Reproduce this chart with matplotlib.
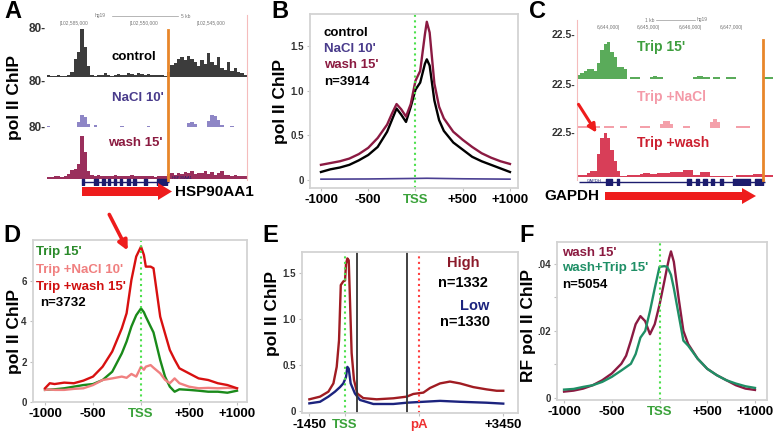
import numpy as np
import matplotlib
matplotlib.use('Agg')
import matplotlib.pyplot as plt
from matplotlib.patches import FancyArrow

plt.rcParams['font.family'] = ['Liberation Sans', 'DejaVu Sans']
plt.rcParams['font.weight'] = 'bold'

W, H = 780, 432

# ---------------- data ----------------
# A: browser tracks around HSP90AA1, 60 equal bins, track scale 0-80
a_control = [3, 2, 2, 3, 2, 2, 3, 8, 30, 42, 80, 50, 18, 3, 2, 3, 4, 6, 3, 2,
             4, 5, 4, 3, 6, 5, 4, 6, 5, 4, 5, 4, 3, 4, 3, 2, 8, 20, 24, 30,
             33, 28, 35, 30, 25, 18, 28, 22, 40, 25, 20, 33, 15, 12, 25, 10, 15, 8, 6, 4]
a_nacl = [1, 0, 0, 0, 0, 0, 0, 0, 0, 8, 22, 18, 6, 0, 4, 0, 0, 0, 0, 0,
          0, 0, 2, 0, 0, 0, 0, 0, 0, 0, 2, 0, 0, 0, 0, 0, 0, 0, 0, 0,
          0, 0, 7, 8, 6, 0, 0, 0, 10, 22, 20, 12, 3, 0, 0, 2, 0, 0, 0, 0]
a_wash = [3, 3, 4, 4, 3, 5, 8, 14, 16, 24, 68, 42, 12, 6, 5, 6, 5, 4, 5, 4,
          6, 5, 4, 5, 4, 6, 5, 4, 5, 4, 5, 4, 3, 4, 5, 4, 8, 9, 7, 10,
          8, 11, 9, 12, 8, 10, 9, 13, 8, 11, 7, 9, 12, 6, 7, 5, 6, 4, 5, 4]
a_exons = [(10.5, 11.2), (14, 15.2), (16.5, 17.3), (18.2, 19), (20, 20.7), (21.8, 22.6),
           (24, 24.8), (25.8, 26.6), (29.2, 30), (33, 36)]
a_gene_span = (10.5, 36.5)

# C: browser tracks around GAPDH, 59 bins, track scale 0-22.5
c_trip = [2, 3, 4, 5, 5, 4, 8, 15, 18, 19, 14, 11, 6, 6, 5, 0, 1, 1, 1, 0,
          0, 0, 1, 1.5, 1, 1, 0, 0, 0, 0, 0, 0, 0, 0, 0, 1, 1.5, 1.5, 1, 1,
          0, 1, 1, 0, 0, 1, 1, 1, 0, 0, 0, 0, 0, 0, 0, 0, 1, 1, 1]
c_nacl = [1, 1, 1, 1, 1, 1, 1, 0, 1.2, 1.2, 1, 0, 0, 1, 1, 0, 0, 0, 0, 1,
          1, 1, 0, 0, 0, 2, 3.5, 3.5, 2, 0, 0, 0, 1, 1, 0, 0, 0, 0, 0, 0,
          3, 4.5, 3, 0, 0, 0, 0, 0, 1, 1, 1.3, 1.3, 0, 0, 0, 0, 0, 0, 0]
c_wash = [1, 1, 1, 2, 3, 3, 12, 20, 23, 20, 14, 8, 3, 0.6, 0.6, 1, 1, 1, 1, 1.5,
          2, 2, 1.5, 1.5, 2, 2, 2, 2, 2.5, 2.5, 2.5, 2.5, 3.5, 3.5, 3.5, 1, 1, 2.5, 2.5, 2.5,
          0.6, 0.6, 0.6, 0.6, 0.6, 0.6, 0.6, 0, 1, 1, 1, 1, 1, 1.5, 1.5, 1.5, 1, 1, 1]
c_exons = [(8.8, 10.5), (12, 12.7), (33, 34.3), (35.7, 36.7), (38, 39), (40.3, 41.3),
           (43, 44), (47, 52), (53.5, 56)]
c_gene_span = (0.5, 56.5)

# B: metagene, -1000..+1000 around TSS
b_pos = [-1000, -900, -800, -700, -600, -500, -400, -300, -250, -200, -150, -100, -50, 0,
         50, 100, 120, 150, 200, 250, 300, 400, 500, 600, 700, 800, 900, 1000]
b_control = [0.09, 0.12, 0.14, 0.17, 0.22, 0.28, 0.37, 0.54, 0.67, 0.80, 0.73, 0.65, 0.82, 1.01,
             1.09, 1.30, 1.35, 1.28, 0.89, 0.67, 0.55, 0.42, 0.34, 0.26, 0.21, 0.17, 0.13, 0.09]
b_wash = [0.17, 0.19, 0.21, 0.24, 0.29, 0.36, 0.47, 0.62, 0.74, 0.85, 0.79, 0.71, 0.85, 1.11,
          1.22, 1.63, 1.77, 1.65, 1.08, 0.82, 0.69, 0.54, 0.45, 0.37, 0.30, 0.25, 0.21, 0.18]
b_nacl_pos = [-1000, -500, 0, 120, 500, 1000]
b_nacl = [0.01, 0.012, 0.018, 0.02, 0.014, 0.01]

# D
d_pos = [-1000, -950, -900, -800, -700, -600, -500, -400, -300, -200, -150, -100, -50, 0, 30,
         50, 100, 130, 200, 250, 300, 350, 400, 500, 600, 700, 800, 900, 1000]
d_wash = [0.68, 0.93, 0.89, 0.96, 0.93, 1.06, 1.26, 1.75, 2.50, 3.65, 4.40, 6.05, 7.21, 7.70, 7.29,
          6.71, 6.71, 6.63, 4.23, 3.40, 2.58, 2.10, 1.67, 1.42, 1.17, 1.09, 0.93, 0.84, 0.68]
d_trip = [0.60, 0.62, 0.63, 0.68, 0.76, 0.84, 0.89, 1.09, 1.50, 2.41, 3.00, 3.74, 4.30, 4.64, 4.45,
          4.23, 3.74, 3.45, 2.08, 1.26, 0.76, 0.51, 0.63, 0.60, 0.56, 0.51, 0.51, 0.46, 0.56]
d_nacl = [0.60, 0.62, 0.60, 0.60, 0.65, 0.68, 0.84, 1.09, 1.17, 1.26, 1.20, 1.39, 1.26, 1.75, 1.60,
          1.75, 1.83, 1.70, 1.42, 1.10, 0.93, 1.17, 0.93, 0.76, 0.68, 0.70, 0.68, 0.70, 0.68]

# E: scaled metagene, x in percent of the plotted window
e_ticks = [0, 18.4, 56.4, 100]
e_ticklabels = ['-1450', 'TSS', 'pA', '+3450']
e_bounds = [24.7, 50.2]
e_high_pos = [0, 5.5, 9.8, 12.4, 14.1, 15.3, 16.2, 17.5, 18.4, 18.9, 19.6, 20.3, 21.0, 21.8, 23.0,
              24.7, 27.8, 34.7, 43.3, 50.2, 53.6, 58.8, 62.2, 67.4, 72.5, 77.7, 84.5, 91.4, 96.6, 100]
e_high = [0.127, 0.156, 0.21, 0.30, 0.48, 0.77, 1.37, 1.41, 1.42, 1.60, 1.66, 1.64, 1.17, 0.63, 0.34,
          0.19, 0.14, 0.127, 0.138, 0.156, 0.185, 0.20, 0.25, 0.30, 0.32, 0.30, 0.26, 0.235, 0.22, 0.22]
e_low_pos = [0, 5.5, 9.8, 13.2, 15.8, 17.5, 18.9, 19.6, 20.3, 21.3, 23.5, 26.1, 33.0, 43.3, 50.2,
             57.0, 67.4, 77.7, 91.4, 100]
e_low = [0.083, 0.10, 0.156, 0.21, 0.26, 0.30, 0.37, 0.48, 0.46, 0.30, 0.19, 0.12, 0.076, 0.076, 0.09,
         0.098, 0.11, 0.10, 0.09, 0.08]

# F
f_pos = [-1000, -900, -800, -700, -600, -500, -400, -350, -300, -250, -200, -150, -100, -50, 0,
         50, 80, 100, 120, 150, 200, 250, 300, 400, 500, 600, 700, 800, 900, 1000]
f_wash = [.0019, .0022, .0028, .0038, .0053, .0073, .0102, .0126, .0171, .0220, .0244, .0229, .0190, .0220, .0278,
          .0347, .0390, .0416, .0437, .0406, .0298, .0200, .0161, .0117, .0087, .0068, .0053, .0038, .0028, .0024]
f_trip = [.0025, .0027, .0033, .0038, .0048, .0063, .0082, .0092, .0102, .0131, .0180, .0200, .0259, .0327, .0391,
          .0393, .0391, .0380, .0367, .0327, .0249, .0171, .0156, .0117, .0087, .0068, .0053, .0043, .0035, .0030]

# ---------------- figure ----------------
fig = plt.figure(figsize=(W / 100, H / 100), dpi=100)

GREEN_TSS = '#4de04d'
TSS_TXT = '#3aa23a'
MAROON = '#8b1a42'


def px_axes(x0, y0, x1, y1):
    return fig.add_axes([x0 / W, 1 - y1 / H, (x1 - x0) / W, (y1 - y0) / H])


def track(box, heights, top, color):
    ax = px_axes(*box)
    x = np.arange(len(heights))
    ax.bar(x, heights, width=1, align='edge', color=color, linewidth=0)
    ax.set_xlim(0, len(heights))
    ax.set_ylim(0, top)
    ax.axis('off')
    return ax


def gene(box, nbins, span, exons, color='#1c1c6e'):
    ax = px_axes(*box)
    ax.hlines(0, span[0], span[1], color=color, lw=1)
    ax.broken_barh([(s, e - s) for s, e in exons], (-1, 2), color=color)
    ax.set_xlim(0, nbins)
    ax.set_ylim(-1.5, 1.5)
    ax.axis('off')
    return ax


def profile_style(ax, xticks, xlabels, yticks, ylabels):
    for s in ax.spines.values():
        s.set_color('#d3d3d3')
        s.set_linewidth(1.3)
    ax.set_xticks(xticks)
    ax.set_xticklabels(xlabels, fontsize=9.5)
    ax.set_yticks(yticks)
    ax.set_yticklabels(ylabels, fontsize=7, color='#333333')
    ax.tick_params(axis='both', color='#c0c0c0', length=2.5, width=0.8, pad=2)
    for lbl in ax.get_xticklabels():
        if lbl.get_text() == 'TSS':
            lbl.set_color(TSS_TXT)
        elif lbl.get_text() == 'pA':
            lbl.set_color('#ee3030')


# ---- A
track((47, 29, 247, 77), a_control, 80, '#3c3c3c')
track((47, 82, 247, 127), a_nacl, 80, '#8e86c6')
track((47, 128, 247, 179), a_wash, 80, '#9a2f5c')
gene((47, 178, 247, 186), len(a_control), a_gene_span, a_exons)

# ---- C
track((577, 35, 773, 79), c_trip, 22.5, '#5aab5a')
track((577, 85, 773, 128), c_nacl, 22.5, '#f4a0aa')
track((577, 133, 773, 177), c_wash, 22.5, '#d83e58')
gene((577, 178, 773, 186), len(c_trip), c_gene_span, c_exons)

# ---- B
axB = px_axes(310, 14, 518, 188)
axB.plot(b_pos, b_control, color='black', lw=1.7)
axB.plot(b_nacl_pos, b_nacl, color='#4a3f92', lw=1.2)
axB.plot(b_pos, b_wash, color=MAROON, lw=1.7)
axB.axvline(0, color=GREEN_TSS, ls=':', lw=1.5)
axB.set_xlim(-1116, 1085)
axB.set_ylim(-0.089, 1.857)
profile_style(axB, [-1000, -500, 0, 500, 1000], ['-1000', '-500', 'TSS', '+500', '+1000'],
              [0, 0.5, 1.0, 1.5], ['0', '0.5', '1.0', '1.5'])

# ---- D
axD = px_axes(33, 240, 247, 402)
axD.plot(d_pos, d_trip, color='#1a8a1a', lw=1.7)
axD.plot(d_pos, d_nacl, color='#f08080', lw=1.7)
axD.plot(d_pos, d_wash, color='#d81010', lw=1.7)
axD.axvline(0, color=GREEN_TSS, ls=':', lw=1.5)
axD.set_xlim(-1125, 1104)
axD.set_ylim(0, 8.03)
profile_style(axD, [-1000, -500, 0, 500, 1000], ['-1000', '-500', 'TSS', '+500', '+1000'],
              [0, 2, 4, 6], ['0', '2', '4', '6'])

# ---- E
axE = px_axes(302, 252, 518, 413)
axE.plot(e_high_pos, e_high, color='#a01c22', lw=1.7)
axE.plot(e_low_pos, e_low, color='#1c237e', lw=1.7)
axE.axvline(e_ticks[1], color=GREEN_TSS, ls=':', lw=1.5)
axE.axvline(e_ticks[2], color='#ff4040', ls=':', lw=1.5)
for b in e_bounds:
    axE.axvline(b, color='#333333', lw=1.3)
axE.set_xlim(-3.8, 107.6)
axE.set_ylim(-0.022, 1.73)
profile_style(axE, e_ticks, e_ticklabels, [0, 0.5, 1.0, 1.5], ['0', '0.5', '1.0', '1.5'])

# ---- F
axF = px_axes(557, 242, 767, 400)
axF.plot(f_pos, f_wash, color=MAROON, lw=1.7)
axF.plot(f_pos, f_trip, color='#1f8f66', lw=1.7)
axF.axvline(0, color=GREEN_TSS, ls=':', lw=1.5)
axF.set_xlim(-1074, 1126)
axF.set_ylim(-0.0006, 0.0465)
profile_style(axF, [-1000, -500, 0, 500, 1000], ['-1000', '-500', 'TSS', '+500', '+1000'],
              [0, 0.02, 0.04], ['0', '.02', '.04'])
axF.set_yticks([0.01, 0.03], minor=True)
axF.tick_params(axis='y', which='minor', color='#c0c0c0', length=2.5, width=0.8)

# ---------------- overlay (pixel coordinates) ----------------
ov = fig.add_axes([0, 0, 1, 1], zorder=10)
ov.set_xlim(0, W)
ov.set_ylim(H, 0)
ov.axis('off')
ov.patch.set_alpha(0)

for lab, x, y in [('A', 13, 12), ('B', 280, 12), ('C', 538, 12),
                  ('D', 12, 236), ('E', 270, 235), ('F', 527, 235)]:
    ov.text(x, y, lab, fontsize=17, ha='center', va='center')

# y axis labels
for txt, x, y in [('pol II ChIP', 15, 97), ('pol II ChIP', 281, 102), ('pol II ChIP', 15, 332),
                  ('pol II ChIP', 273, 314), ('RF pol II ChIP', 529, 325)]:
    ov.text(x, y, txt, fontsize=12.5, rotation=90, ha='center', va='center')

# A decorations
for y in [29, 82, 128]:
    ov.text(46, y, '80-', fontsize=8.5, ha='right', va='center', color='#333333')
ov.text(112, 57, 'control', fontsize=9.5, va='center', color='black')
ov.text(112, 98, "NaCl 10'", fontsize=9.5, va='center', color='#4a3c8c')
ov.text(108, 143, "wash 15'", fontsize=9.5, va='center', color='#8b1a40')
ov.plot([168, 168], [30, 180], color='#e8862a', lw=2)
ov.plot([247, 247], [15, 180], color='#f5bcbc', lw=0.8)
ov.text(100, 16, 'hg19', fontsize=3.5, ha='center', va='center', color='#777777', weight='normal')
ov.plot([112, 178], [16, 16], color='#999999', lw=0.5)
ov.text(186, 16, '5 kb', fontsize=3.5, ha='center', va='center', color='#777777', weight='normal')
for x, t in [(60, '102,585,000'), (130, '102,550,000'), (197, '102,545,000')]:
    ov.text(x, 24, '|' + t, fontsize=3.5, va='center', color='#777777', weight='normal')
ov.text(172, 178, 'HSP90AA1', fontsize=3, va='center', color='#1c1c6e', weight='normal')
ov.add_patch(FancyArrow(82, 191.5, 76, 0, width=9, head_width=17, head_length=14,
                        length_includes_head=False, color='#ee1c1c', lw=0))
ov.text(175, 192, 'HSP90AA1', fontsize=11, va='center')

# C decorations
for y in [35, 85, 133]:
    ov.text(575, y, '22.5-', fontsize=7.5, ha='right', va='center', color='#333333')
ov.text(637, 47, "Trip 15'", fontsize=10, va='center', color='#3e9e3e')
ov.text(637, 97, 'Trip +NaCl', fontsize=10, va='center', color='#f49aa8')
ov.text(637, 143, 'Trip +wash', fontsize=10, va='center', color='#cc1f2f')
ov.plot([763, 763], [40, 180], color='#e8862a', lw=2)
ov.plot([577, 577], [20, 180], color='#f5bcbc', lw=0.8)
ov.text(650, 20, '1 kb', fontsize=3.5, ha='center', va='center', color='#777777', weight='normal')
ov.plot([656, 695], [19.5, 19.5], color='#999999', lw=0.5)
ov.text(702, 20, 'hg19', fontsize=3.5, ha='center', va='center', color='#777777', weight='normal')
for x, t in [(597, '6,644,000'), (637, '6,645,000'), (679, '6,646,000'), (720, '6,647,000')]:
    ov.text(x, 28, t + '|', fontsize=3.5, va='center', color='#777777', weight='normal')
ov.text(587, 181, 'GAPDH', fontsize=3, va='center', color='#1c1c6e', weight='normal')
ov.add_patch(FancyArrow(605, 196, 137, 0, width=8, head_width=16, head_length=14,
                        length_includes_head=False, color='#ee1c1c', lw=0))
ov.text(572, 196, 'GAPDH', fontsize=11, ha='center', va='center')
ov.annotate('', xy=(598, 135), xytext=(577, 102),
            arrowprops=dict(arrowstyle='-|>', color='#ee1c1c', lw=2.2, mutation_scale=12))

# B legend
ov.text(324, 33, 'control', fontsize=9.5, va='center', color='black')
ov.text(324, 49, "NaCl 10'", fontsize=9.5, va='center', color='#4a3c8c')
ov.text(324, 65, "wash 15'", fontsize=9.5, va='center', color='#8b1a40')
ov.text(324, 82, 'n=3914', fontsize=9.5, va='center', color='black')

# D legend
ov.text(36, 252, "Trip 15'", fontsize=9.5, va='center', color='#2a8a2a')
ov.text(36, 270, "Trip +NaCl 10'", fontsize=9.5, va='center', color='#f08080')
ov.text(36, 287, "Trip +wash 15'", fontsize=9.5, va='center', color='#d01010')
ov.text(40, 303, 'n=3732', fontsize=9.5, va='center', color='black')
ov.annotate('', xy=(129, 253), xytext=(108, 212),
            arrowprops=dict(arrowstyle='-|>', color='#ee1c1c', lw=2.6, mutation_scale=14))

# E legend
ov.text(463, 263, 'High', fontsize=10.5, ha='center', va='center', color='#8b1a2a')
ov.text(463, 283, 'n=1332', fontsize=10.5, ha='center', va='center', color='black')
ov.text(475, 306, 'Low', fontsize=10.5, ha='center', va='center', color='#1c237e')
ov.text(465, 322, 'n=1330', fontsize=10.5, ha='center', va='center', color='black')

# F legend
ov.text(562, 253, "wash 15'", fontsize=9.5, va='center', color='#8b1a40')
ov.text(562, 268, "wash+Trip 15'", fontsize=9.5, va='center', color='#1f8f66')
ov.text(562, 285, 'n=5054', fontsize=9.5, va='center', color='black')

fig.savefig('out.png', dpi=100)
